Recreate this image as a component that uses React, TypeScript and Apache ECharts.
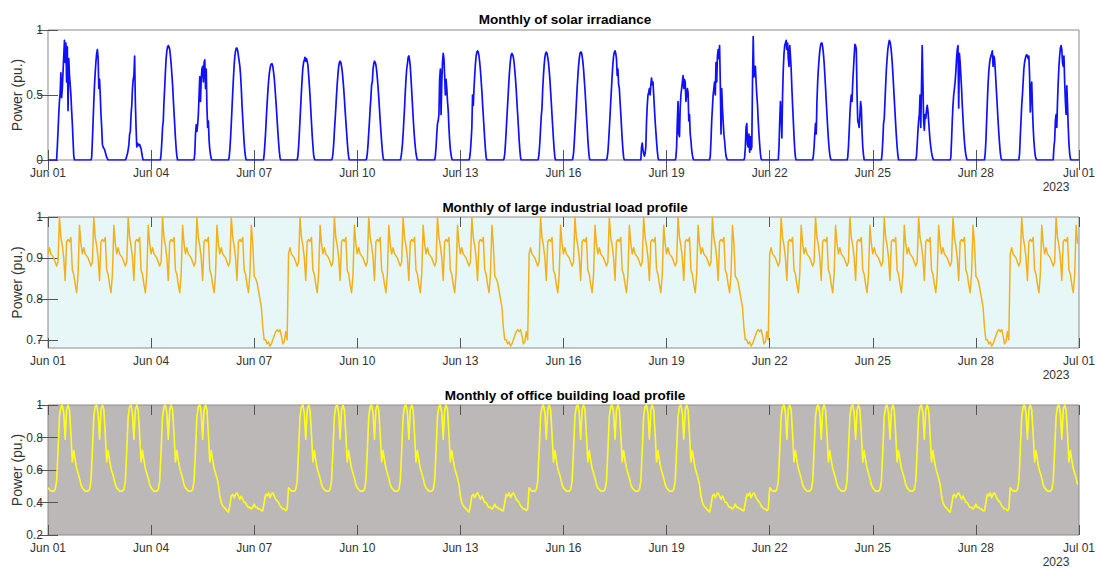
import React, { useEffect, useRef } from "react";
import * as echarts from "echarts";

// ---------- data ----------
const dayTickLabels = ["Jun 01", "Jun 04", "Jun 07", "Jun 10", "Jun 13", "Jun 16", "Jun 19", "Jun 22", "Jun 25", "Jun 28", "Jul 01"];
const yearLabel = "2023";
const panelTitles = [
  "Monthly of solar irradiance",
  "Monthly of large industrial load profile",
  "Monthly of office building load profile",
];
const yAxisName = "Power (pu.)";

// solar: half-hour samples from 06:00 to 19:00 each day (0 at night)
const solarHours = [6, 6.5, 7, 7.5, 8, 8.5, 9, 9.5, 10, 10.5, 11, 11.5, 12, 12.5, 13, 13.5, 14, 14.5, 15, 15.5, 16, 16.5, 17, 17.5, 18, 18.5, 19];
const solarDays: number[][] = [
  [0, 0.1, 0.22, 0.35, 0.45, 0.52, 0.67, 0.48, 0.55, 0.68, 0.8, 0.92, 0.75, 0.9, 0.6, 0.87, 0.38, 0.78, 0.65, 0.58, 0.5, 0.38, 0.28, 0.15, 0.03, 0, 0],
  [0, 0.02, 0.15, 0.3, 0.45, 0.58, 0.68, 0.76, 0.82, 0.85, 0.78, 0.55, 0.62, 0.5, 0.35, 0.25, 0.12, 0.1, 0.09, 0.08, 0.06, 0.04, 0.02, 0.01, 0, 0, 0],
  [0, 0.01, 0.03, 0.05, 0.08, 0.12, 0.2, 0.22, 0.35, 0.42, 0.55, 0.62, 0.65, 0.8, 0.45, 0.25, 0.1, 0.13, 0.12, 0.11, 0.12, 0.1, 0.09, 0.05, 0.02, 0, 0],
  [0, 0, 0.05, 0.14, 0.25, 0.3, 0.45, 0.56, 0.68, 0.78, 0.84, 0.87, 0.88, 0.87, 0.85, 0.8, 0.74, 0.66, 0.58, 0.47, 0.37, 0.27, 0.17, 0.09, 0.03, 0, 0],
  [0, 0.05, 0.2, 0.27, 0.22, 0.27, 0.35, 0.5, 0.64, 0.45, 0.62, 0.7, 0.72, 0.6, 0.75, 0.77, 0.55, 0.7, 0.4, 0.25, 0.3, 0.15, 0.08, 0.04, 0.01, 0, 0],
  [0, 0.02, 0.08, 0.17, 0.28, 0.4, 0.52, 0.63, 0.73, 0.8, 0.84, 0.86, 0.86, 0.84, 0.8, 0.76, 0.72, 0.65, 0.55, 0.42, 0.32, 0.22, 0.13, 0.06, 0.02, 0, 0],
  [0, 0, 0.05, 0.13, 0.22, 0.33, 0.43, 0.52, 0.6, 0.66, 0.7, 0.73, 0.74, 0.74, 0.72, 0.68, 0.63, 0.56, 0.48, 0.4, 0.31, 0.22, 0.14, 0.07, 0.02, 0, 0],
  [0, 0.03, 0.1, 0.2, 0.31, 0.42, 0.53, 0.63, 0.71, 0.75, 0.77, 0.79, 0.76, 0.78, 0.76, 0.73, 0.66, 0.58, 0.49, 0.39, 0.29, 0.19, 0.11, 0.04, 0.01, 0, 0],
  [0, 0.01, 0.05, 0.12, 0.22, 0.31, 0.4, 0.5, 0.59, 0.66, 0.72, 0.75, 0.76, 0.75, 0.72, 0.68, 0.62, 0.55, 0.47, 0.38, 0.3, 0.22, 0.14, 0.07, 0.02, 0, 0],
  [0, 0.01, 0.05, 0.12, 0.21, 0.3, 0.4, 0.48, 0.58, 0.6, 0.7, 0.74, 0.76, 0.75, 0.73, 0.69, 0.63, 0.56, 0.48, 0.39, 0.3, 0.22, 0.14, 0.07, 0.02, 0, 0],
  [0, 0.02, 0.06, 0.12, 0.2, 0.3, 0.4, 0.52, 0.62, 0.7, 0.74, 0.79, 0.8, 0.77, 0.72, 0.63, 0.53, 0.43, 0.33, 0.24, 0.16, 0.1, 0.05, 0.02, 0, 0, 0],
  [0, 0.03, 0.1, 0.2, 0.28, 0.3, 0.35, 0.62, 0.7, 0.35, 0.6, 0.75, 0.82, 0.78, 0.65, 0.5, 0.62, 0.55, 0.45, 0.38, 0.25, 0.15, 0.08, 0.04, 0.01, 0, 0],
  [0, 0.02, 0.07, 0.15, 0.25, 0.5, 0.42, 0.55, 0.65, 0.74, 0.8, 0.83, 0.84, 0.83, 0.8, 0.75, 0.69, 0.61, 0.53, 0.43, 0.34, 0.25, 0.16, 0.08, 0.02, 0, 0],
  [0, 0.01, 0.05, 0.13, 0.23, 0.33, 0.43, 0.53, 0.63, 0.71, 0.77, 0.81, 0.82, 0.81, 0.79, 0.75, 0.69, 0.62, 0.54, 0.44, 0.35, 0.26, 0.16, 0.08, 0.02, 0, 0],
  [0, 0.01, 0.06, 0.14, 0.24, 0.34, 0.4, 0.55, 0.65, 0.73, 0.79, 0.82, 0.83, 0.82, 0.79, 0.75, 0.69, 0.62, 0.53, 0.44, 0.34, 0.25, 0.16, 0.08, 0.02, 0, 0],
  [0, 0.01, 0.05, 0.13, 0.23, 0.33, 0.44, 0.55, 0.64, 0.72, 0.78, 0.82, 0.83, 0.83, 0.8, 0.76, 0.7, 0.62, 0.54, 0.45, 0.35, 0.26, 0.16, 0.08, 0.02, 0, 0],
  [0, 0.02, 0.06, 0.14, 0.24, 0.34, 0.45, 0.55, 0.65, 0.74, 0.8, 0.83, 0.84, 0.82, 0.78, 0.65, 0.7, 0.58, 0.55, 0.45, 0.36, 0.26, 0.16, 0.08, 0.02, 0, 0],
  [0, 0.1, 0.13, 0.08, 0.05, 0.03, 0.05, 0.1, 0.3, 0.42, 0.5, 0.52, 0.55, 0.5, 0.58, 0.63, 0.58, 0.6, 0.5, 0.4, 0.3, 0.22, 0.14, 0.07, 0.02, 0, 0],
  [0, 0.02, 0.1, 0.3, 0.45, 0.2, 0.18, 0.4, 0.5, 0.55, 0.6, 0.65, 0.55, 0.62, 0.6, 0.45, 0.5, 0.55, 0.52, 0.3, 0.35, 0.2, 0.15, 0.08, 0.04, 0.01, 0],
  [0, 0.03, 0.15, 0.3, 0.4, 0.5, 0.55, 0.6, 0.5, 0.75, 0.6, 0.8, 0.85, 0.78, 0.88, 0.6, 0.2, 0.55, 0.4, 0.3, 0.2, 0.15, 0.08, 0.03, 0.01, 0, 0],
  [0, 0.02, 0.1, 0.25, 0.28, 0.12, 0.1, 0.2, 0.06, 0.18, 0.08, 0.1, 0.6, 0.95, 0.64, 0.68, 0.72, 0.6, 0.5, 0.42, 0.3, 0.2, 0.12, 0.05, 0.01, 0, 0],
  [0, 0.1, 0.3, 0.45, 0.35, 0.17, 0.5, 0.7, 0.82, 0.88, 0.9, 0.92, 0.85, 0.9, 0.78, 0.72, 0.88, 0.8, 0.7, 0.55, 0.42, 0.3, 0.18, 0.08, 0.02, 0, 0],
  [0, 0.03, 0.1, 0.2, 0.28, 0.2, 0.45, 0.6, 0.7, 0.78, 0.84, 0.88, 0.9, 0.9, 0.87, 0.82, 0.75, 0.66, 0.56, 0.45, 0.35, 0.25, 0.16, 0.09, 0.04, 0.01, 0],
  [0, 0.02, 0.1, 0.22, 0.35, 0.45, 0.5, 0.45, 0.6, 0.7, 0.8, 0.89, 0.88, 0.85, 0.5, 0.3, 0.28, 0.25, 0.35, 0.45, 0.4, 0.22, 0.1, 0.04, 0, 0, 0],
  [0, 0.05, 0.15, 0.28, 0.32, 0.45, 0.58, 0.7, 0.78, 0.85, 0.89, 0.92, 0.91, 0.88, 0.83, 0.76, 0.67, 0.57, 0.47, 0.37, 0.27, 0.18, 0.1, 0.04, 0, 0, 0],
  [0, 0.03, 0.12, 0.22, 0.3, 0.35, 0.5, 0.25, 0.55, 0.88, 0.6, 0.3, 0.23, 0.35, 0.32, 0.38, 0.42, 0.38, 0.3, 0.22, 0.15, 0.1, 0.06, 0.03, 0.01, 0, 0],
  [0, 0.02, 0.15, 0.3, 0.42, 0.5, 0.55, 0.6, 0.68, 0.78, 0.85, 0.88, 0.4, 0.82, 0.75, 0.65, 0.55, 0.42, 0.32, 0.22, 0.14, 0.08, 0.04, 0.01, 0, 0, 0],
  [0, 0.05, 0.15, 0.3, 0.45, 0.58, 0.68, 0.74, 0.78, 0.8, 0.82, 0.84, 0.72, 0.8, 0.78, 0.7, 0.6, 0.5, 0.4, 0.3, 0.21, 0.13, 0.06, 0.02, 0, 0, 0],
  [0, 0.05, 0.18, 0.3, 0.42, 0.5, 0.6, 0.7, 0.75, 0.78, 0.8, 0.81, 0.8, 0.78, 0.8, 0.65, 0.37, 0.55, 0.6, 0.4, 0.25, 0.15, 0.08, 0.03, 0.01, 0, 0],
  [0, 0.1, 0.15, 0.3, 0.35, 0.25, 0.45, 0.6, 0.72, 0.8, 0.86, 0.88, 0.85, 0.75, 0.72, 0.8, 0.6, 0.45, 0.35, 0.57, 0.42, 0.25, 0.12, 0.05, 0.01, 0, 0],
];

// industrial load: hourly profiles (00:00 .. 23:00)
const industrialWorkday = [0.91, 0.925, 0.91, 0.905, 0.9, 0.89, 0.88, 0.89, 1.0, 0.95, 0.93, 0.9, 0.845, 0.94, 0.945, 0.94, 0.95, 0.87, 0.86, 0.835, 0.815, 0.86, 0.98, 0.935];
const industrialRestDay = [0.855, 0.85, 0.84, 0.82, 0.8, 0.78, 0.73, 0.7, 0.7, 0.69, 0.695, 0.685, 0.69, 0.7, 0.71, 0.72, 0.725, 0.72, 0.725, 0.71, 0.69, 0.695, 0.72, 0.7];
const industrialDayType = ["W", "W", "W", "W", "W", "W", "R", "W", "W", "W", "W", "W", "W", "R", "W", "W", "W", "W", "W", "W", "R", "W", "W", "W", "W", "W", "W", "R", "W", "W"];

// office building load: hourly profiles (00:00 .. 23:00)
const officeWorkday = [0.49, 0.48, 0.47, 0.47, 0.47, 0.48, 0.53, 0.72, 0.93, 0.99, 1.0, 0.95, 0.79, 0.97, 1.0, 0.97, 0.82, 0.65, 0.72, 0.66, 0.61, 0.58, 0.55, 0.51];
const officeWeekendA = [0.44, 0.4, 0.38, 0.37, 0.36, 0.35, 0.34, 0.38, 0.44, 0.45, 0.43, 0.45, 0.46, 0.44, 0.42, 0.44, 0.42, 0.4, 0.4, 0.38, 0.37, 0.37, 0.36, 0.37];
const officeWeekendB = [0.39, 0.37, 0.37, 0.36, 0.36, 0.35, 0.35, 0.4, 0.45, 0.44, 0.46, 0.43, 0.45, 0.46, 0.44, 0.42, 0.41, 0.4, 0.38, 0.37, 0.36, 0.36, 0.35, 0.36];
const officeDayType = ["W", "W", "W", "W", "W", "A", "B", "W", "W", "W", "W", "W", "A", "B", "W", "W", "W", "W", "W", "A", "B", "W", "W", "W", "W", "W", "A", "B", "W", "W"];

// ---------- build series ----------
function buildSolar(): number[][] {
  const pts: number[][] = [];
  solarDays.forEach((day, d) => {
    pts.push([d * 24, 0]);
    day.forEach((v, k) => pts.push([d * 24 + solarHours[k], v]));
  });
  pts.push([solarDays.length * 24, 0]);
  return pts;
}
function buildHourly(types: string[], profiles: Record<string, number[]>): number[][] {
  const pts: number[][] = [];
  types.forEach((t, d) => {
    profiles[t].forEach((v, h) => pts.push([d * 24 + h, v]));
  });
  return pts;
}

const FONT = "'Liberation Sans', Arial, Helvetica, sans-serif";

export default function App() {
  const ref = useRef<HTMLDivElement>(null);
  useEffect(() => {
    if (!ref.current) return;
    const chart = echarts.init(ref.current, null, { renderer: "svg" });

    const layout = [
      { top: 30, height: 130, bg: "#ffffff", title: 19, year: 187 },
      { top: 217, height: 131, bg: "#e7f7f8", title: 207, year: 375 },
      { top: 405, height: 130, bg: "#bcb8b8", title: 395, year: 562 },
    ];
    const left = 48;
    const right = 16;
    const tickColor = "#555";
    const labelColor = "#333";

    const grids = layout.map((l) => ({
      left, right, top: l.top, height: l.height,
      show: true, backgroundColor: l.bg, borderColor: "#8a8a8a", borderWidth: 1,
    }));

    const xAxes: any[] = [];
    const yAxes: any[] = [];
    layout.forEach((_, i) => {
      const base = {
        type: "value", gridIndex: i, min: 0, max: 720, interval: 72,
        axisLine: { show: false }, splitLine: { show: false },
        axisTick: { inside: true, length: 10, lineStyle: { color: tickColor } },
      };
      xAxes.push({
        ...base, position: "bottom",
        axisLabel: {
          formatter: (v: number) => dayTickLabels[Math.round(v / 72)] ?? "",
          fontSize: 12, color: labelColor, margin: 7, fontFamily: FONT,
          showMinLabel: true, showMaxLabel: true,
        },
      });
      xAxes.push({ ...base, position: "top", axisLabel: { show: false } });
    });

    const yCfg = [
      { min: 0, max: 1, interval: 0.5 },
      { min: 0.68, max: 1, custom: [0.7, 0.8, 0.9, 1] },
      { min: 0.2, max: 1, interval: 0.2 },
    ];
    yCfg.forEach((c: any, i) => {
      const fmt = (v: number) => String(Math.round(v * 10) / 10);
      const base: any = {
        type: "value", gridIndex: i, min: c.min, max: c.max,
        axisLine: { show: false }, splitLine: { show: false },
        axisTick: { inside: true, length: 10, lineStyle: { color: tickColor } },
      };
      if (c.interval) base.interval = c.interval;
      if (c.custom) base.axisTick.customValues = c.custom;
      yAxes.push({
        ...base, position: "left",
        axisLabel: {
          formatter: fmt, fontSize: 12, color: labelColor, margin: 5, fontFamily: FONT,
          ...(c.custom ? { customValues: c.custom } : {}),
        },
      });
      yAxes.push({ ...base, position: "right", axisLabel: { show: false } });
    });

    const solar = buildSolar();
    const industrial = buildHourly(industrialDayType, { W: industrialWorkday, R: industrialRestDay });
    const office = buildHourly(officeDayType, { W: officeWorkday, A: officeWeekendA, B: officeWeekendB });

    const series = [
      { data: solar, color: "#1010ff", width: 1.7 },
      { data: industrial, color: "#f2b11c", width: 1.5 },
      { data: office, color: "#ffff1a", width: 1.6 },
    ].map((s, i) => ({
      type: "line", xAxisIndex: i * 2, yAxisIndex: i * 2, data: s.data,
      showSymbol: false, symbol: "none", silent: true,
      lineStyle: { color: s.color, width: s.width, join: "round" },
    }));

    const graphics: any[] = [];
    layout.forEach((l, i) => {
      graphics.push({
        type: "text", x: 565, y: l.title,
        style: { text: panelTitles[i], font: `bold 13.5px ${FONT}`, fill: "#000", align: "center", verticalAlign: "middle" },
      });
      graphics.push({
        type: "text", x: 17, y: l.top + l.height / 2, rotation: Math.PI / 2,
        style: { text: yAxisName, font: `14px ${FONT}`, fill: labelColor, align: "center", verticalAlign: "middle" },
      });
      graphics.push({
        type: "text", x: 1056, y: l.year,
        style: { text: yearLabel, font: `12px ${FONT}`, fill: labelColor, align: "center", verticalAlign: "middle" },
      });
    });

    chart.setOption({
      animation: false,
      backgroundColor: "#ffffff",
      grid: grids,
      xAxis: xAxes,
      yAxis: yAxes,
      series,
      graphic: graphics,
    });
    return () => chart.dispose();
  }, []);
  return (
    <div
      ref={ref}
      style={{ position: "fixed", left: 0, top: 0, width: 1098, height: 569, background: "#fff" }}
    />
  );
}
